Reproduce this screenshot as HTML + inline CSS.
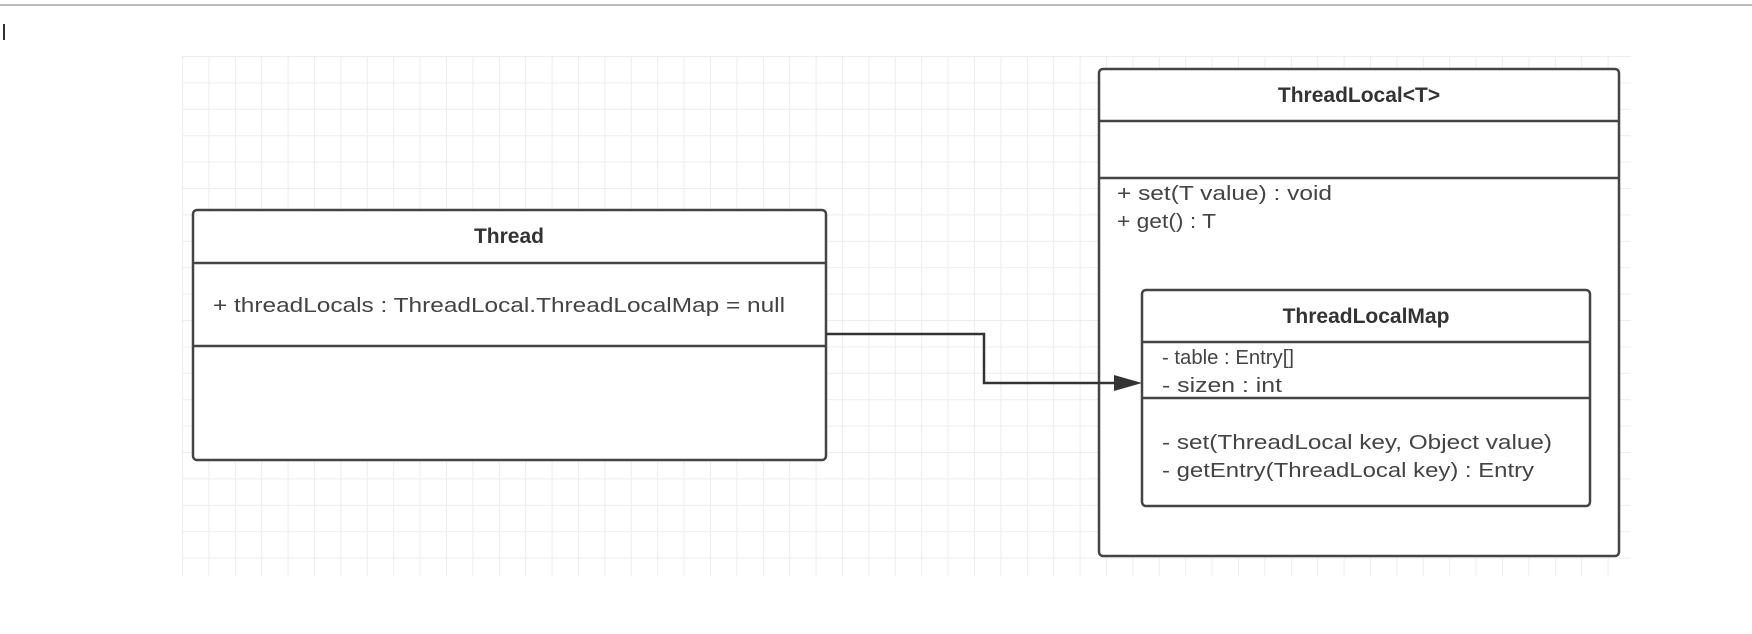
<!DOCTYPE html>
<html><head><meta charset="utf-8"><style>
html,body{margin:0;padding:0;background:#fff;}
svg{display:block;}
text{font-family:"Liberation Sans",sans-serif;fill:#444;font-size:20px;}
.b{font-weight:bold;font-size:21px;fill:#333;}
</style></head><body>
<svg width="1752" height="634" viewBox="0 0 1752 634">
<defs>
<pattern id="g" x="182" y="56" width="26.4" height="26.4" patternUnits="userSpaceOnUse">
<path d="M0 0.5H26.4M0.5 0V26.4" stroke="#ededed" stroke-width="1" fill="none"/>
</pattern>
</defs>
<line x1="0" y1="5" x2="1752" y2="5" stroke="#bbb" stroke-width="2"/>
<line x1="4" y1="24" x2="4" y2="40" stroke="#333" stroke-width="2"/>
<rect x="182" y="56" width="1449" height="520" fill="url(#g)"/>
<!-- Thread -->
<rect x="193" y="210" width="633" height="250" rx="4" fill="#fff" stroke="#444" stroke-width="2.5"/>
<line x1="193" y1="263" x2="826" y2="263" stroke="#444" stroke-width="2.5"/>
<line x1="193" y1="346" x2="826" y2="346" stroke="#444" stroke-width="2.5"/>
<text class="b" x="509" y="243" text-anchor="middle">Thread</text>
<text x="213" y="312" textLength="572" lengthAdjust="spacingAndGlyphs">+ threadLocals : ThreadLocal.ThreadLocalMap = null</text>
<!-- ThreadLocal -->
<rect x="1099" y="69" width="520" height="487" rx="4" fill="#fff" stroke="#444" stroke-width="2.5"/>
<line x1="1099" y1="121" x2="1619" y2="121" stroke="#444" stroke-width="2.5"/>
<line x1="1099" y1="178" x2="1619" y2="178" stroke="#444" stroke-width="2.5"/>
<text class="b" x="1359" y="102" text-anchor="middle">ThreadLocal&lt;T&gt;</text>
<text x="1117" y="200" textLength="215" lengthAdjust="spacingAndGlyphs">+ set(T value) : void</text>
<text x="1117" y="228" textLength="99" lengthAdjust="spacingAndGlyphs">+ get() : T</text>
<!-- ThreadLocalMap -->
<rect x="1142" y="290" width="448" height="216" rx="4" fill="#fff" stroke="#444" stroke-width="2.5"/>
<line x1="1142" y1="342" x2="1590" y2="342" stroke="#444" stroke-width="2.5"/>
<line x1="1142" y1="398" x2="1590" y2="398" stroke="#444" stroke-width="2.5"/>
<text class="b" x="1366" y="323" text-anchor="middle">ThreadLocalMap</text>
<text x="1162" y="364" textLength="132" lengthAdjust="spacingAndGlyphs">- table : Entry[]</text>
<text x="1162" y="392" textLength="120" lengthAdjust="spacingAndGlyphs">- sizen : int</text>
<text x="1162" y="449" textLength="390" lengthAdjust="spacingAndGlyphs">- set(ThreadLocal key, Object value)</text>
<text x="1162" y="477" textLength="372" lengthAdjust="spacingAndGlyphs">- getEntry(ThreadLocal key) :  Entry</text>
<!-- connector -->
<polyline points="826,334 984,334 984,383 1118,383" fill="none" stroke="#333" stroke-width="2.5"/>
<polygon points="1142,383 1114,375 1114,391" fill="#333"/>
</svg>
</body></html>
